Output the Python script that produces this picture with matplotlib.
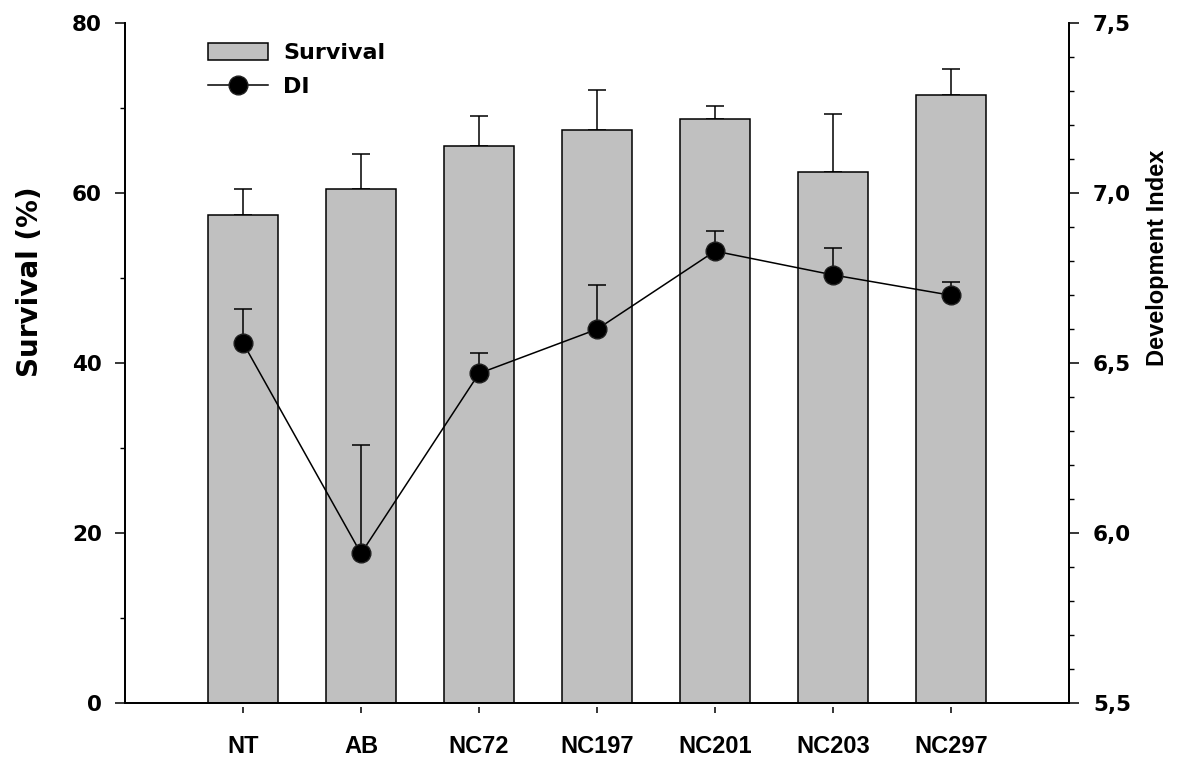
import numpy as np
import matplotlib
matplotlib.use("Agg")
import matplotlib.pyplot as plt
from matplotlib import font_manager
from matplotlib.ticker import MultipleLocator, FuncFormatter

plt.rcParams['font.family'] = ['Liberation Sans', 'DejaVu Sans']
plt.rcParams['font.weight'] = 'bold'

# data
groups = ['NT', 'AB', 'NC72', 'NC197', 'NC201', 'NC203', 'NC297']
survival = [57.4, 60.5, 65.6, 67.5, 68.7, 62.5, 71.6]
survival_err = [3.1, 4.1, 3.5, 4.7, 1.6, 6.9, 3.1]
di = [6.56, 5.94, 6.47, 6.60, 6.83, 6.76, 6.70]
di_err = [0.10, 0.32, 0.06, 0.13, 0.06, 0.08, 0.04]

x = np.arange(len(groups))

installed = {f.name for f in font_manager.fontManager.ttflist}
if 'Liberation Sans Narrow' in installed:
    narrow, narrow_size = 'Liberation Sans Narrow', 22
else:
    narrow, narrow_size = 'Liberation Sans', 17

fig = plt.figure(figsize=(11.85, 7.58), dpi=100)
ax = fig.add_axes([0.1055, 0.0726, 0.7966, 0.8964])
ax2 = ax.twinx()

# bars with upper error only
bars = ax.bar(x, survival, width=0.6, color='#c0c0c0', edgecolor='black',
              linewidth=1.1, label='Survival', zorder=2)
ax.errorbar(x, survival, yerr=[np.zeros(len(x)), survival_err], fmt='none',
            ecolor='black', elinewidth=1.1, capsize=6.5, capthick=1.1, zorder=1)

# development index line
ax2.errorbar(x, di, yerr=[np.zeros(len(x)), di_err], fmt='none',
             ecolor='black', elinewidth=1.1, capsize=6.5, capthick=1.1, zorder=1)
line, = ax2.plot(x, di, color='black', lw=1.1, marker='o', markersize=13.5,
                 markerfacecolor='black', markeredgecolor='#202020',
                 label='DI', zorder=3)

ax.set_xlim(-1, 7)
ax.set_ylim(0, 80)
ax2.set_ylim(5.5, 7.5)

for a in (ax, ax2):
    a.spines['top'].set_visible(False)
    for s in a.spines.values():
        s.set_linewidth(1.3)

ax.yaxis.set_major_locator(MultipleLocator(20))
ax.yaxis.set_minor_locator(MultipleLocator(10))
ax.tick_params(axis='y', which='major', length=7.2, width=1.1, pad=9.5)
ax.tick_params(axis='y', which='minor', length=3.6, width=1.0)

ax2.yaxis.set_major_locator(MultipleLocator(0.5))
ax2.yaxis.set_minor_locator(MultipleLocator(0.1))
ax2.yaxis.set_major_formatter(FuncFormatter(lambda v, p: f"{v:.1f}".replace('.', ',')))
ax2.tick_params(axis='y', which='major', length=7.2, width=1.1, pad=10)
ax2.tick_params(axis='y', which='minor', length=3.6, width=1.0)

for t in ax.get_yticklabels() + ax2.get_yticklabels():
    t.set_fontfamily('DejaVu Sans')
    t.set_fontsize(15.5)
    t.set_fontweight('bold')

# category labels without tick marks; tick marks drawn slightly below axis
ax.set_xticks(x)
ax.set_xticklabels(groups)
ax.tick_params(axis='x', length=0, pad=23, labelsize=17)
sec = ax.secondary_xaxis(-0.006)
sec.set_xticks(x)
sec.tick_params(axis='x', length=4.5, width=1.1, labelbottom=False)
sec.spines['bottom'].set_visible(False)

ax.set_ylabel('Survival (%)', fontsize=20, fontweight='bold', family='DejaVu Sans')
ax.yaxis.set_label_coords(-0.086, 0.62)
ax2.set_ylabel('Development Index', fontsize=narrow_size, fontweight='bold', family=narrow)
ax2.yaxis.set_label_coords(1.082, 0.655)

ax2.legend([bars, line], ['Survival', 'DI'], loc='upper left',
           bbox_to_anchor=(0.0876, 0.972), frameon=False,
           prop={'family': 'DejaVu Sans', 'weight': 'bold', 'size': 16},
           handlelength=2.73, handleheight=0.85, handletextpad=0.67,
           labelspacing=0.62, borderpad=0, borderaxespad=0)

fig.savefig('out.png', dpi=100)
